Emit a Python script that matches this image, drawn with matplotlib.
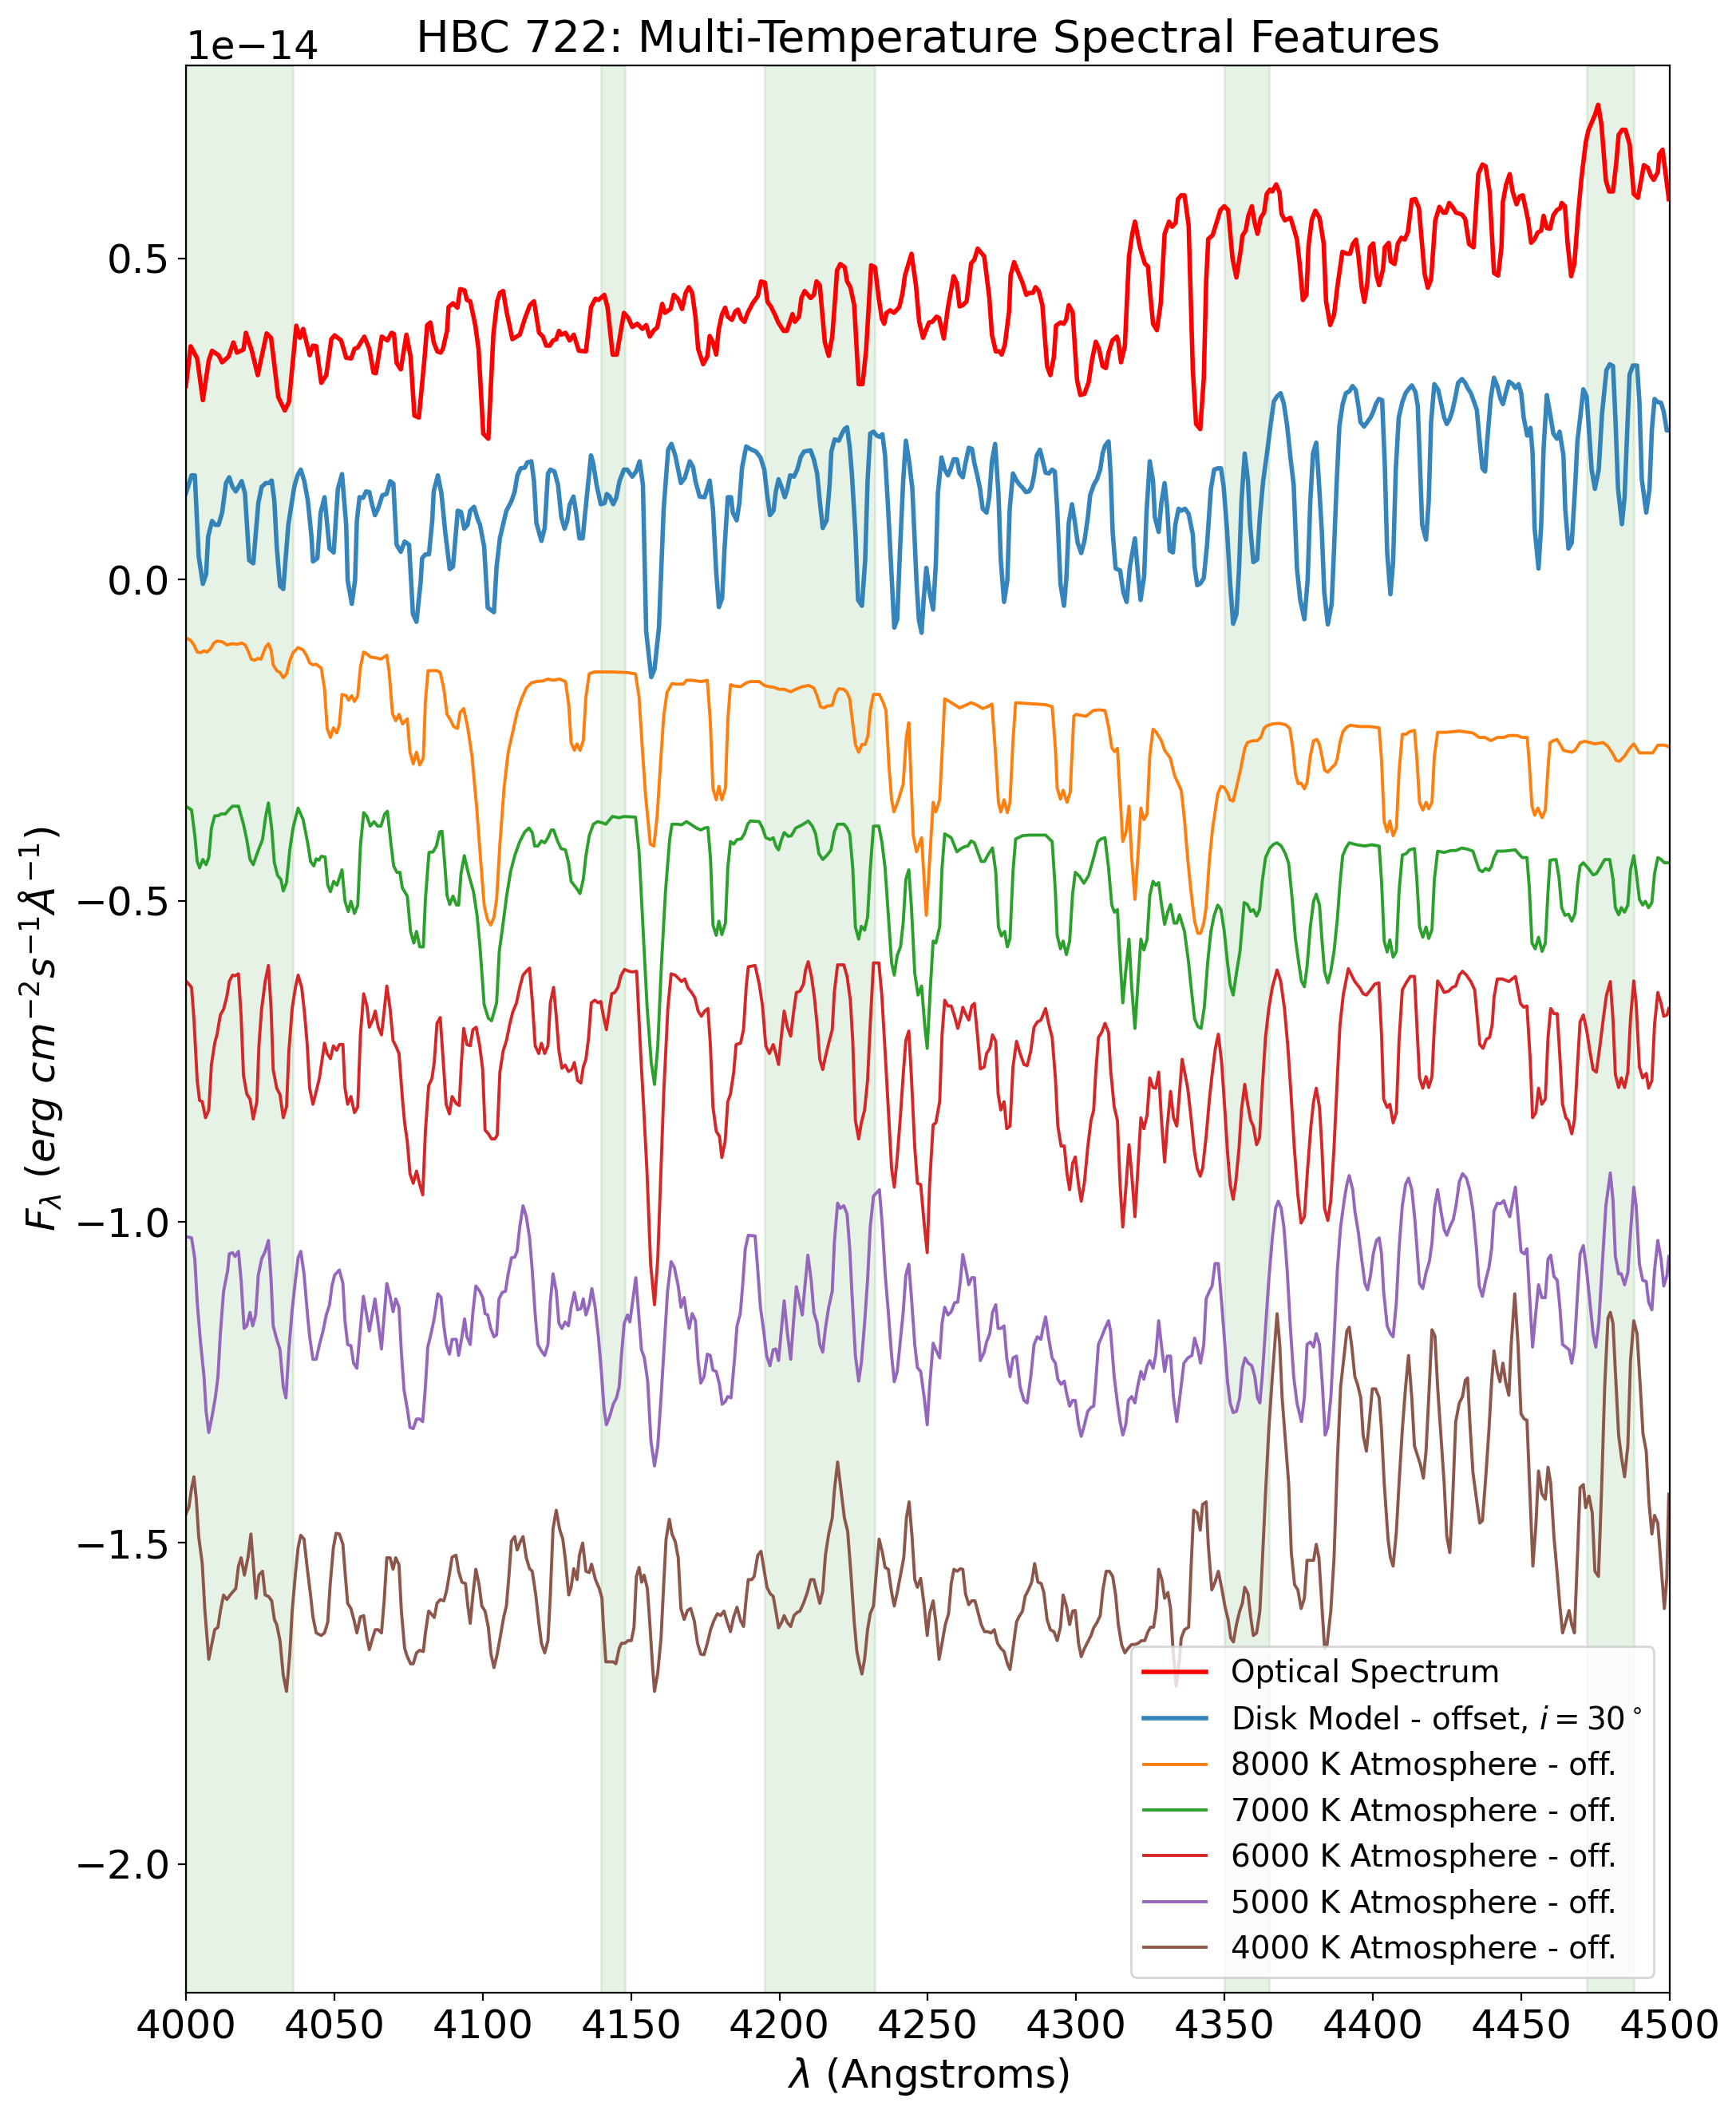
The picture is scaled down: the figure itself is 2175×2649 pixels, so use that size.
import numpy as np
import matplotlib
matplotlib.use("Agg")
import matplotlib.pyplot as plt

# all fluxes in units of 1e-14 erg/cm2/s/A, (wavelength, flux) pairs
optical = [
    (4000.0, 0.301), (4001.6, 0.363), (4003.8, 0.344), (4005.7, 0.279), (4007.7, 0.341), (4008.8, 0.356),
    (4011.0, 0.349), (4012.2, 0.338), (4014.4, 0.347), (4016.0, 0.369), (4017.2, 0.353), (4019.4, 0.358),
    (4020.2, 0.384), (4022.2, 0.356), (4024.2, 0.318), (4027.2, 0.383), (4028.7, 0.376), (4031.1, 0.284),
    (4033.3, 0.263), (4034.7, 0.276), (4037.2, 0.395), (4038.4, 0.376), (4039.5, 0.390), (4041.7, 0.349),
    (4042.8, 0.364), (4043.9, 0.363), (4045.6, 0.306), (4047.3, 0.318), (4049.0, 0.374), (4050.1, 0.380),
    (4052.3, 0.372), (4054.0, 0.345), (4055.7, 0.344), (4056.8, 0.359), (4057.9, 0.361), (4060.1, 0.378),
    (4061.8, 0.359), (4063.2, 0.322), (4064.0, 0.321), (4066.0, 0.378), (4067.9, 0.372), (4069.3, 0.384),
    (4070.1, 0.382), (4071.0, 0.337), (4072.4, 0.327), (4074.3, 0.381), (4075.7, 0.347), (4077.0, 0.255),
    (4078.5, 0.252), (4080.4, 0.344), (4081.3, 0.396), (4082.4, 0.400), (4083.5, 0.369), (4084.7, 0.355),
    (4085.8, 0.353), (4086.6, 0.359), (4088.0, 0.387), (4088.5, 0.424), (4090.0, 0.430), (4091.5, 0.423),
    (4092.4, 0.452), (4093.9, 0.450), (4094.7, 0.435), (4095.8, 0.433), (4097.5, 0.396), (4098.6, 0.359),
    (4100.2, 0.227), (4101.9, 0.219), (4103.6, 0.381), (4104.9, 0.433), (4105.8, 0.446), (4106.9, 0.449),
    (4108.0, 0.418), (4110.0, 0.374), (4112.5, 0.381), (4114.2, 0.406), (4115.9, 0.427), (4117.3, 0.433),
    (4119.0, 0.384), (4120.3, 0.378), (4121.4, 0.364), (4122.6, 0.364), (4123.7, 0.372), (4124.8, 0.374),
    (4125.7, 0.387), (4126.5, 0.381), (4127.9, 0.384), (4129.3, 0.372), (4130.7, 0.381), (4132.4, 0.356),
    (4134.8, 0.355), (4136.5, 0.424), (4138.0, 0.437), (4139.0, 0.435), (4141.0, 0.443), (4142.1, 0.423),
    (4143.8, 0.350), (4145.2, 0.350), (4147.6, 0.415), (4149.1, 0.407), (4150.4, 0.393), (4152.1, 0.398),
    (4153.8, 0.390), (4155.1, 0.396), (4156.3, 0.378), (4157.7, 0.388), (4158.8, 0.392), (4160.5, 0.429),
    (4161.4, 0.415), (4163.3, 0.421), (4164.4, 0.443), (4165.8, 0.437), (4167.2, 0.421), (4168.4, 0.446),
    (4169.5, 0.455), (4170.6, 0.446), (4171.7, 0.409), (4172.6, 0.359), (4174.3, 0.335), (4175.7, 0.347),
    (4176.5, 0.379), (4177.6, 0.369), (4178.7, 0.350), (4179.5, 0.388), (4180.6, 0.412), (4181.7, 0.423),
    (4182.6, 0.409), (4184.0, 0.404), (4185.1, 0.417), (4186.0, 0.420), (4187.1, 0.406), (4188.2, 0.401),
    (4189.3, 0.415), (4191.0, 0.430), (4192.7, 0.441), (4193.8, 0.464), (4195.1, 0.462), (4196.0, 0.432),
    (4197.1, 0.425), (4198.5, 0.412), (4199.6, 0.400), (4201.4, 0.387), (4202.5, 0.387), (4204.4, 0.413),
    (4205.2, 0.401), (4206.6, 0.409), (4207.4, 0.438), (4208.5, 0.449), (4210.5, 0.438), (4211.6, 0.443),
    (4212.5, 0.464), (4213.6, 0.458), (4215.3, 0.369), (4216.6, 0.348), (4217.8, 0.378), (4218.9, 0.446),
    (4219.4, 0.481), (4220.5, 0.491), (4222.0, 0.486), (4222.8, 0.464), (4223.9, 0.455), (4225.2, 0.427),
    (4226.7, 0.304), (4228.0, 0.304), (4229.2, 0.356), (4230.9, 0.489), (4232.2, 0.486), (4233.4, 0.440),
    (4234.5, 0.406), (4235.3, 0.398), (4236.1, 0.415), (4237.3, 0.419), (4238.6, 0.415), (4240.4, 0.424),
    (4241.5, 0.446), (4242.3, 0.473), (4243.4, 0.490), (4244.5, 0.507), (4246.0, 0.458), (4247.1, 0.401),
    (4248.4, 0.376), (4250.4, 0.400), (4251.5, 0.401), (4252.9, 0.409), (4253.8, 0.407), (4255.4, 0.375),
    (4256.8, 0.424), (4258.7, 0.472), (4259.8, 0.461), (4260.7, 0.425), (4261.8, 0.427), (4263.1, 0.433),
    (4264.6, 0.492), (4265.7, 0.498), (4266.8, 0.515), (4267.9, 0.509), (4269.0, 0.503), (4270.7, 0.440),
    (4271.6, 0.381), (4272.9, 0.355), (4274.1, 0.355), (4274.9, 0.350), (4276.0, 0.366), (4277.4, 0.418),
    (4277.9, 0.473), (4279.1, 0.494), (4280.2, 0.481), (4281.9, 0.462), (4283.2, 0.443), (4284.1, 0.446),
    (4285.4, 0.446), (4286.3, 0.455), (4287.4, 0.449), (4288.6, 0.427), (4290.2, 0.332), (4291.3, 0.318),
    (4292.5, 0.347), (4293.2, 0.395), (4294.7, 0.400), (4295.8, 0.398), (4296.6, 0.404), (4297.5, 0.427),
    (4298.8, 0.416), (4300.3, 0.310), (4301.4, 0.287), (4302.8, 0.289), (4304.2, 0.307), (4305.3, 0.341),
    (4306.6, 0.370), (4307.7, 0.359), (4308.9, 0.332), (4310.0, 0.329), (4310.9, 0.353), (4312.2, 0.372),
    (4313.7, 0.378), (4314.2, 0.370), (4315.1, 0.338), (4316.4, 0.363), (4317.8, 0.503), (4318.9, 0.538),
    (4319.8, 0.557), (4321.5, 0.517), (4323.1, 0.492), (4324.2, 0.487), (4324.8, 0.452), (4325.9, 0.398),
    (4327.2, 0.388), (4328.5, 0.430), (4329.8, 0.538), (4331.3, 0.557), (4332.3, 0.549), (4333.5, 0.555),
    (4334.3, 0.592), (4335.4, 0.598), (4336.5, 0.598), (4337.9, 0.551), (4339.3, 0.326), (4340.4, 0.242),
    (4341.8, 0.234), (4343.0, 0.313), (4343.8, 0.464), (4344.5, 0.530), (4346.0, 0.536), (4347.4, 0.557),
    (4348.6, 0.575), (4349.9, 0.581), (4351.2, 0.575), (4352.7, 0.499), (4354.0, 0.470), (4355.5, 0.514),
    (4356.0, 0.535), (4357.1, 0.543), (4358.0, 0.566), (4359.2, 0.581), (4360.2, 0.554), (4361.1, 0.538),
    (4362.2, 0.563), (4363.3, 0.571), (4364.2, 0.600), (4365.3, 0.607), (4366.1, 0.604), (4367.4, 0.615),
    (4368.5, 0.603), (4369.2, 0.569), (4370.3, 0.559), (4372.2, 0.563), (4373.3, 0.547), (4374.4, 0.529),
    (4375.3, 0.492), (4376.4, 0.435), (4377.6, 0.443), (4378.3, 0.520), (4379.4, 0.560), (4380.6, 0.574),
    (4382.0, 0.563), (4383.4, 0.523), (4384.2, 0.433), (4385.6, 0.396), (4386.9, 0.412), (4388.0, 0.455),
    (4389.7, 0.510), (4391.2, 0.507), (4392.3, 0.507), (4393.2, 0.522), (4394.3, 0.529), (4395.1, 0.504),
    (4396.2, 0.455), (4397.1, 0.432), (4398.1, 0.461), (4399.0, 0.517), (4400.1, 0.523), (4401.2, 0.473),
    (4402.1, 0.458), (4403.4, 0.483), (4404.0, 0.517), (4405.3, 0.524), (4406.0, 0.495), (4407.3, 0.491),
    (4408.4, 0.523), (4409.6, 0.532), (4410.7, 0.529), (4411.8, 0.541), (4413.1, 0.591), (4414.3, 0.592),
    (4415.5, 0.578), (4417.4, 0.476), (4418.5, 0.454), (4419.6, 0.467), (4421.0, 0.559), (4422.4, 0.580),
    (4423.7, 0.571), (4424.6, 0.571), (4425.7, 0.586), (4426.8, 0.580), (4428.0, 0.571), (4430.0, 0.568),
    (4431.1, 0.561), (4432.4, 0.522), (4433.9, 0.517), (4435.5, 0.631), (4436.9, 0.646), (4438.0, 0.643),
    (4439.3, 0.603), (4440.8, 0.477), (4442.2, 0.473), (4443.3, 0.517), (4443.8, 0.588), (4444.9, 0.615),
    (4446.1, 0.631), (4447.1, 0.603), (4448.4, 0.584), (4449.4, 0.596), (4450.5, 0.598), (4452.3, 0.559),
    (4453.3, 0.524), (4454.5, 0.530), (4455.5, 0.540), (4456.7, 0.543), (4457.5, 0.566), (4458.6, 0.547),
    (4459.7, 0.546), (4460.8, 0.567), (4462.0, 0.575), (4463.1, 0.578), (4463.6, 0.586), (4464.7, 0.581),
    (4465.6, 0.523), (4466.8, 0.472), (4467.9, 0.492), (4469.2, 0.572), (4470.3, 0.626), (4471.7, 0.680),
    (4472.6, 0.699), (4473.9, 0.713), (4474.8, 0.723), (4475.9, 0.739), (4477.0, 0.708), (4478.5, 0.621),
    (4479.6, 0.604), (4480.9, 0.604), (4482.0, 0.649), (4482.8, 0.692), (4484.0, 0.700), (4485.1, 0.700),
    (4486.5, 0.677), (4487.9, 0.600), (4489.3, 0.594), (4491.3, 0.645), (4492.6, 0.641), (4493.7, 0.628),
    (4494.6, 0.622), (4496.0, 0.634), (4496.5, 0.662), (4497.6, 0.669), (4498.8, 0.625), (4499.7, 0.592),
]

disk = [
    (4000.0, 0.134), (4001.9, 0.162), (4003.0, 0.162), (4004.3, 0.036), (4005.7, -0.007), (4006.8, 0.008),
    (4007.5, 0.067), (4008.8, 0.091), (4009.9, 0.085), (4011.0, 0.085), (4012.2, 0.104), (4013.5, 0.150),
    (4014.6, 0.159), (4015.7, 0.144), (4016.8, 0.137), (4017.7, 0.144), (4018.8, 0.153), (4019.9, 0.134),
    (4021.3, 0.030), (4022.7, 0.025), (4024.4, 0.119), (4025.5, 0.144), (4026.9, 0.150), (4028.0, 0.150),
    (4028.9, 0.154), (4029.8, 0.122), (4030.6, 0.051), (4031.7, -0.010), (4032.8, -0.015), (4034.5, 0.085),
    (4036.5, 0.144), (4037.6, 0.162), (4038.7, 0.171), (4039.9, 0.153), (4041.1, 0.122), (4042.3, 0.067),
    (4042.8, 0.028), (4044.3, 0.033), (4045.4, 0.104), (4046.7, 0.128), (4048.4, 0.048), (4049.8, 0.042),
    (4051.2, 0.141), (4052.6, 0.164), (4054.0, 0.085), (4054.5, -0.001), (4055.9, -0.038), (4057.0, -0.001),
    (4057.6, 0.091), (4058.5, 0.128), (4059.7, 0.127), (4060.7, 0.137), (4061.8, 0.136), (4062.6, 0.119),
    (4063.7, 0.100), (4064.8, 0.111), (4066.2, 0.131), (4067.6, 0.133), (4068.8, 0.153), (4069.9, 0.149),
    (4071.0, 0.054), (4072.4, 0.043), (4073.7, 0.059), (4075.2, 0.054), (4076.5, -0.054), (4077.7, -0.066),
    (4079.1, -0.004), (4079.6, 0.033), (4080.7, 0.039), (4081.9, 0.039), (4083.0, 0.091), (4083.5, 0.137),
    (4084.9, 0.162), (4086.1, 0.134), (4087.4, 0.073), (4088.9, 0.016), (4090.0, 0.020), (4091.6, 0.107),
    (4092.7, 0.105), (4093.8, 0.079), (4094.9, 0.085), (4095.8, 0.107), (4097.1, 0.113), (4098.3, 0.094),
    (4099.1, 0.085), (4100.5, 0.051), (4101.7, -0.044), (4103.8, -0.051), (4104.7, 0.020), (4105.8, 0.064),
    (4107.0, 0.088), (4108.0, 0.107), (4109.7, 0.122), (4110.8, 0.137), (4111.7, 0.162), (4112.8, 0.173),
    (4114.2, 0.174), (4115.0, 0.182), (4116.4, 0.184), (4117.3, 0.153), (4118.1, 0.088), (4119.8, 0.060),
    (4120.9, 0.080), (4122.0, 0.165), (4122.8, 0.171), (4124.2, 0.168), (4125.4, 0.147), (4126.5, 0.097),
    (4127.6, 0.079), (4128.5, 0.091), (4129.3, 0.116), (4130.6, 0.129), (4131.5, 0.104), (4132.6, 0.064),
    (4133.7, 0.064), (4135.0, 0.125), (4136.5, 0.193), (4137.2, 0.182), (4138.4, 0.147), (4139.8, 0.117),
    (4141.1, 0.119), (4141.8, 0.133), (4142.8, 0.129), (4144.0, 0.117), (4145.0, 0.127), (4146.1, 0.153),
    (4147.6, 0.171), (4148.7, 0.171), (4150.4, 0.160), (4151.7, 0.168), (4152.9, 0.184), (4154.0, 0.147),
    (4155.1, -0.081), (4156.8, -0.152), (4157.9, -0.140), (4159.4, -0.075), (4161.0, 0.110), (4162.5, 0.202),
    (4163.6, 0.211), (4164.9, 0.193), (4166.8, 0.150), (4168.1, 0.158), (4169.8, 0.184), (4170.9, 0.175),
    (4171.7, 0.153), (4173.1, 0.129), (4174.8, 0.128), (4176.5, 0.154), (4177.6, 0.110), (4178.7, 0.011),
    (4179.6, -0.043), (4180.7, -0.029), (4181.5, 0.048), (4182.6, 0.128), (4183.7, 0.128), (4184.3, 0.104),
    (4185.6, 0.092), (4186.5, 0.119), (4187.4, 0.174), (4188.8, 0.207), (4190.2, 0.203), (4192.1, 0.199),
    (4193.6, 0.190), (4194.9, 0.171), (4195.8, 0.134), (4196.8, 0.100), (4198.0, 0.107), (4198.8, 0.137),
    (4199.7, 0.156), (4200.7, 0.144), (4201.8, 0.128), (4202.7, 0.141), (4203.6, 0.162), (4204.9, 0.160),
    (4206.0, 0.171), (4207.2, 0.191), (4208.3, 0.199), (4210.5, 0.201), (4211.6, 0.187), (4212.7, 0.165),
    (4213.6, 0.122), (4214.6, 0.080), (4215.9, 0.092), (4216.9, 0.147), (4217.5, 0.199), (4218.6, 0.218),
    (4220.0, 0.216), (4221.1, 0.227), (4221.9, 0.234), (4222.8, 0.237), (4223.7, 0.205), (4224.4, 0.165),
    (4225.6, 0.073), (4226.5, -0.032), (4227.8, -0.041), (4228.9, 0.030), (4229.7, 0.153), (4230.6, 0.227),
    (4231.7, 0.230), (4232.8, 0.224), (4233.7, 0.222), (4234.7, 0.226), (4235.6, 0.193), (4236.7, 0.104),
    (4237.8, 0.005), (4238.7, -0.075), (4239.7, -0.062), (4240.6, 0.042), (4241.7, 0.153), (4242.6, 0.216),
    (4243.7, 0.184), (4244.8, 0.141), (4245.4, 0.079), (4246.2, -0.004), (4247.0, -0.063), (4247.9, -0.083),
    (4248.6, -0.032), (4249.5, 0.018), (4250.6, -0.020), (4251.8, -0.047), (4252.7, 0.023), (4253.4, 0.134),
    (4254.6, 0.190), (4255.7, 0.171), (4256.8, 0.162), (4257.6, 0.171), (4258.7, 0.187), (4259.8, 0.187),
    (4260.7, 0.165), (4261.8, 0.159), (4262.7, 0.181), (4263.8, 0.205), (4264.9, 0.203), (4265.7, 0.181),
    (4266.8, 0.159), (4267.6, 0.141), (4268.5, 0.110), (4269.8, 0.104), (4270.7, 0.128), (4271.6, 0.184),
    (4272.7, 0.211), (4273.8, 0.134), (4274.6, 0.030), (4275.7, -0.035), (4276.8, -0.001), (4277.6, 0.110),
    (4278.7, 0.165), (4279.9, 0.154), (4281.0, 0.147), (4282.1, 0.142), (4283.0, 0.136), (4284.1, 0.137),
    (4285.0, 0.144), (4285.8, 0.162), (4286.7, 0.193), (4287.8, 0.202), (4288.9, 0.181), (4289.7, 0.166),
    (4290.8, 0.165), (4291.9, 0.171), (4292.8, 0.168), (4293.6, 0.110), (4294.7, -0.007), (4295.9, -0.041),
    (4296.7, 0.002), (4297.5, 0.088), (4298.6, 0.117), (4299.5, 0.091), (4300.5, 0.057), (4301.7, 0.041),
    (4302.8, 0.060), (4304.0, 0.099), (4304.7, 0.131), (4305.9, 0.147), (4307.0, 0.156), (4308.1, 0.171),
    (4308.9, 0.196), (4309.7, 0.208), (4310.9, 0.215), (4311.6, 0.165), (4312.3, 0.073), (4313.3, 0.017),
    (4314.8, 0.014), (4315.9, -0.020), (4317.0, -0.035), (4318.1, 0.020), (4319.8, 0.064), (4320.9, 0.005),
    (4321.7, -0.032), (4322.9, 0.005), (4323.7, 0.104), (4324.8, 0.184), (4325.9, 0.153), (4326.5, 0.097),
    (4327.8, 0.074), (4328.7, 0.119), (4329.8, 0.150), (4330.7, 0.110), (4331.5, 0.045), (4332.6, 0.042),
    (4333.4, 0.085), (4334.5, 0.110), (4335.4, 0.107), (4336.7, 0.110), (4337.9, 0.102), (4339.3, 0.070),
    (4339.9, 0.020), (4340.8, -0.009), (4341.9, -0.006), (4343.0, 0.002), (4344.1, 0.054), (4345.4, 0.141),
    (4346.5, 0.171), (4347.7, 0.173), (4348.8, 0.173), (4349.7, 0.144), (4350.8, 0.079), (4351.9, -0.007),
    (4352.9, -0.069), (4354.0, -0.054), (4354.9, 0.017), (4355.7, 0.122), (4356.8, 0.196), (4357.9, 0.153),
    (4358.6, 0.085), (4359.7, 0.027), (4361.0, 0.031), (4361.9, 0.097), (4363.0, 0.153), (4364.2, 0.193),
    (4365.3, 0.233), (4366.6, 0.277), (4367.7, 0.285), (4368.9, 0.290), (4370.0, 0.273), (4371.1, 0.239),
    (4372.2, 0.190), (4373.3, 0.147), (4374.4, 0.017), (4375.5, -0.032), (4376.9, -0.062), (4378.0, -0.001),
    (4378.9, 0.122), (4379.8, 0.196), (4380.9, 0.213), (4381.7, 0.159), (4382.8, 0.073), (4383.6, -0.020),
    (4384.8, -0.070), (4386.1, -0.038), (4386.9, 0.048), (4387.8, 0.153), (4388.7, 0.239), (4389.8, 0.273),
    (4390.9, 0.290), (4392.1, 0.293), (4393.1, 0.301), (4394.2, 0.295), (4395.1, 0.270), (4395.8, 0.245),
    (4397.0, 0.238), (4398.1, 0.245), (4399.2, 0.252), (4400.1, 0.261), (4401.0, 0.273), (4402.0, 0.281),
    (4403.1, 0.279), (4404.0, 0.178), (4404.8, 0.042), (4405.9, -0.023), (4406.8, 0.027), (4407.7, 0.171),
    (4408.7, 0.252), (4409.9, 0.276), (4411.0, 0.290), (4412.3, 0.298), (4413.1, 0.302), (4414.3, 0.292),
    (4415.1, 0.270), (4415.7, 0.196), (4416.6, 0.085), (4417.9, 0.062), (4418.8, 0.122), (4419.6, 0.245),
    (4420.7, 0.304), (4422.0, 0.295), (4422.9, 0.276), (4424.0, 0.252), (4424.9, 0.242), (4425.9, 0.250),
    (4426.8, 0.263), (4427.7, 0.282), (4428.7, 0.306), (4430.0, 0.312), (4431.1, 0.306), (4431.9, 0.298),
    (4433.0, 0.290), (4434.1, 0.276), (4435.0, 0.264), (4435.8, 0.224), (4436.9, 0.173), (4437.8, 0.168),
    (4438.5, 0.215), (4439.7, 0.282), (4440.8, 0.314), (4441.9, 0.301), (4443.0, 0.281), (4443.8, 0.273),
    (4444.9, 0.292), (4445.8, 0.308), (4447.1, 0.304), (4448.0, 0.298), (4449.1, 0.304), (4450.0, 0.289),
    (4450.8, 0.252), (4452.0, 0.224), (4453.1, 0.236), (4453.8, 0.196), (4454.5, 0.079), (4455.8, 0.017),
    (4456.7, 0.085), (4457.5, 0.202), (4458.6, 0.287), (4459.7, 0.258), (4460.8, 0.227), (4462.0, 0.219),
    (4462.9, 0.230), (4464.2, 0.193), (4464.8, 0.110), (4465.9, 0.048), (4467.0, 0.057), (4468.1, 0.141),
    (4468.9, 0.215), (4470.0, 0.258), (4470.9, 0.296), (4472.0, 0.285), (4472.8, 0.233), (4473.7, 0.171),
    (4474.8, 0.141), (4476.1, 0.171), (4477.2, 0.258), (4478.7, 0.326), (4479.8, 0.335), (4480.9, 0.332),
    (4481.7, 0.252), (4482.6, 0.141), (4483.9, 0.086), (4484.8, 0.128), (4485.7, 0.233), (4486.5, 0.319),
    (4487.6, 0.333), (4489.0, 0.333), (4489.8, 0.276), (4490.6, 0.156), (4492.1, 0.104), (4493.2, 0.141),
    (4494.0, 0.233), (4494.9, 0.281), (4496.0, 0.276), (4497.1, 0.275), (4498.0, 0.261), (4499.0, 0.232),
    (4499.6, 0.232),
]

atm_8000 = [
    (4000.0, -0.091), (4001.6, -0.095), (4002.7, -0.102), (4003.8, -0.113), (4005.0, -0.114), (4006.1, -0.111),
    (4007.1, -0.113), (4008.3, -0.108), (4009.4, -0.099), (4010.5, -0.096), (4012.2, -0.097), (4013.8, -0.102),
    (4015.5, -0.100), (4017.2, -0.101), (4018.8, -0.099), (4020.0, -0.102), (4021.1, -0.113), (4022.0, -0.124),
    (4023.1, -0.126), (4024.2, -0.123), (4025.3, -0.124), (4026.1, -0.114), (4026.9, -0.105), (4027.8, -0.100),
    (4028.7, -0.110), (4029.4, -0.133), (4030.6, -0.142), (4031.7, -0.145), (4032.8, -0.153), (4033.9, -0.147),
    (4035.0, -0.127), (4036.1, -0.114), (4037.8, -0.106), (4039.5, -0.110), (4040.6, -0.118), (4041.7, -0.130),
    (4042.8, -0.133), (4043.9, -0.132), (4045.6, -0.138), (4046.7, -0.170), (4047.6, -0.232), (4048.7, -0.246),
    (4049.7, -0.231), (4050.8, -0.239), (4051.7, -0.226), (4052.6, -0.179), (4054.0, -0.181), (4054.8, -0.188),
    (4055.9, -0.181), (4056.8, -0.190), (4057.9, -0.181), (4058.8, -0.136), (4059.9, -0.113), (4061.0, -0.116),
    (4062.3, -0.121), (4064.0, -0.122), (4065.7, -0.124), (4067.7, -0.118), (4068.5, -0.145), (4069.6, -0.209),
    (4070.7, -0.220), (4071.8, -0.210), (4073.0, -0.225), (4074.6, -0.217), (4075.5, -0.269), (4076.6, -0.287),
    (4077.7, -0.269), (4078.8, -0.289), (4080.0, -0.278), (4080.7, -0.189), (4081.6, -0.142), (4083.0, -0.142),
    (4084.6, -0.142), (4085.7, -0.145), (4086.9, -0.170), (4088.0, -0.210), (4089.3, -0.220), (4090.2, -0.229),
    (4091.5, -0.232), (4092.4, -0.207), (4093.6, -0.201), (4094.9, -0.229), (4096.4, -0.275), (4098.0, -0.356),
    (4099.1, -0.424), (4100.5, -0.507), (4101.6, -0.529), (4102.7, -0.538), (4103.8, -0.526), (4104.7, -0.498),
    (4105.8, -0.412), (4107.2, -0.325), (4108.6, -0.269), (4110.1, -0.238), (4111.6, -0.207), (4113.1, -0.186),
    (4114.7, -0.169), (4116.4, -0.161), (4118.1, -0.159), (4120.3, -0.158), (4122.0, -0.155), (4123.7, -0.157),
    (4125.9, -0.155), (4127.9, -0.159), (4129.0, -0.195), (4129.8, -0.254), (4130.9, -0.266), (4131.8, -0.256),
    (4132.8, -0.266), (4133.9, -0.251), (4134.8, -0.183), (4135.9, -0.147), (4137.6, -0.144), (4139.8, -0.144),
    (4143.7, -0.144), (4148.7, -0.145), (4151.5, -0.147), (4152.7, -0.183), (4153.8, -0.263), (4154.9, -0.337),
    (4156.5, -0.412), (4157.7, -0.415), (4158.8, -0.368), (4159.9, -0.288), (4161.0, -0.213), (4162.1, -0.176),
    (4163.8, -0.162), (4165.1, -0.163), (4167.6, -0.163), (4168.7, -0.157), (4170.4, -0.157), (4172.0, -0.158),
    (4173.7, -0.159), (4175.7, -0.157), (4176.7, -0.220), (4177.6, -0.325), (4178.7, -0.343), (4179.6, -0.322),
    (4180.6, -0.343), (4181.8, -0.325), (4182.6, -0.220), (4183.5, -0.164), (4184.9, -0.166), (4186.9, -0.167),
    (4188.8, -0.161), (4190.2, -0.159), (4193.2, -0.159), (4194.9, -0.165), (4196.6, -0.167), (4198.2, -0.168),
    (4199.9, -0.171), (4201.6, -0.171), (4203.8, -0.175), (4205.5, -0.171), (4207.7, -0.167), (4209.9, -0.165),
    (4211.6, -0.169), (4212.7, -0.181), (4213.8, -0.198), (4215.0, -0.200), (4216.1, -0.197), (4217.8, -0.196),
    (4218.9, -0.178), (4220.0, -0.170), (4221.7, -0.171), (4222.8, -0.176), (4223.7, -0.186), (4224.4, -0.213),
    (4225.6, -0.257), (4226.7, -0.269), (4227.8, -0.257), (4228.9, -0.257), (4229.8, -0.244), (4230.6, -0.204),
    (4231.7, -0.179), (4233.7, -0.179), (4235.0, -0.192), (4235.9, -0.204), (4236.9, -0.290), (4237.8, -0.343),
    (4238.6, -0.362), (4240.1, -0.343), (4241.7, -0.319), (4242.8, -0.244), (4243.6, -0.223), (4245.1, -0.399),
    (4246.2, -0.424), (4247.9, -0.402), (4249.5, -0.523), (4251.8, -0.347), (4252.7, -0.362), (4254.0, -0.343),
    (4255.1, -0.244), (4255.7, -0.186), (4257.3, -0.190), (4260.7, -0.200), (4264.6, -0.192), (4266.3, -0.195),
    (4268.5, -0.201), (4270.2, -0.198), (4271.6, -0.194), (4272.7, -0.263), (4273.8, -0.347), (4274.6, -0.362),
    (4275.7, -0.343), (4276.8, -0.363), (4277.7, -0.347), (4278.7, -0.251), (4279.6, -0.192), (4283.0, -0.193),
    (4289.7, -0.195), (4291.9, -0.198), (4293.0, -0.263), (4293.6, -0.325), (4294.7, -0.342), (4295.6, -0.328),
    (4296.9, -0.347), (4298.0, -0.331), (4299.2, -0.213), (4300.0, -0.210), (4301.9, -0.212), (4303.3, -0.213),
    (4305.8, -0.204), (4307.5, -0.203), (4309.7, -0.204), (4310.9, -0.229), (4312.0, -0.262), (4312.9, -0.268),
    (4313.9, -0.263), (4314.8, -0.337), (4315.7, -0.408), (4316.8, -0.393), (4317.8, -0.353), (4318.7, -0.433),
    (4319.8, -0.498), (4320.9, -0.424), (4321.8, -0.356), (4322.8, -0.374), (4323.9, -0.365), (4324.8, -0.275),
    (4325.9, -0.233), (4327.0, -0.238), (4328.7, -0.251), (4329.8, -0.266), (4331.7, -0.278), (4333.2, -0.306),
    (4335.4, -0.328), (4336.5, -0.374), (4337.6, -0.436), (4338.7, -0.486), (4339.9, -0.532), (4341.0, -0.551),
    (4341.9, -0.551), (4343.0, -0.535), (4343.8, -0.510), (4344.9, -0.436), (4346.0, -0.387), (4347.7, -0.334),
    (4348.8, -0.322), (4349.9, -0.324), (4351.0, -0.332), (4351.8, -0.343), (4352.9, -0.345), (4353.8, -0.328),
    (4355.2, -0.300), (4356.8, -0.263), (4357.7, -0.254), (4358.8, -0.252), (4359.9, -0.251), (4361.0, -0.251),
    (4362.2, -0.246), (4363.3, -0.232), (4364.2, -0.228), (4366.1, -0.225), (4368.3, -0.224), (4370.5, -0.226),
    (4372.0, -0.232), (4373.0, -0.263), (4373.9, -0.303), (4374.8, -0.318), (4375.8, -0.317), (4376.9, -0.326),
    (4377.8, -0.316), (4378.9, -0.275), (4380.0, -0.251), (4381.1, -0.249), (4382.0, -0.257), (4382.8, -0.275),
    (4383.7, -0.297), (4384.8, -0.300), (4386.1, -0.293), (4387.3, -0.288), (4388.0, -0.278), (4388.9, -0.254),
    (4389.8, -0.238), (4390.9, -0.231), (4392.3, -0.227), (4395.6, -0.229), (4399.0, -0.229), (4402.1, -0.231),
    (4402.9, -0.282), (4403.8, -0.377), (4404.8, -0.393), (4405.7, -0.376), (4406.8, -0.399), (4407.9, -0.387),
    (4408.8, -0.300), (4409.9, -0.241), (4411.2, -0.241), (4412.3, -0.237), (4414.0, -0.235), (4414.8, -0.278),
    (4415.7, -0.347), (4416.8, -0.359), (4417.9, -0.347), (4418.8, -0.357), (4419.9, -0.347), (4420.7, -0.275),
    (4421.8, -0.238), (4424.6, -0.238), (4429.1, -0.236), (4433.7, -0.239), (4435.8, -0.246), (4437.8, -0.246),
    (4439.7, -0.251), (4441.9, -0.246), (4444.1, -0.246), (4445.8, -0.243), (4448.6, -0.243), (4450.3, -0.246),
    (4452.0, -0.246), (4452.7, -0.288), (4453.6, -0.353), (4454.5, -0.367), (4455.6, -0.356), (4457.0, -0.371),
    (4458.1, -0.359), (4459.0, -0.293), (4459.7, -0.254), (4460.8, -0.251), (4462.0, -0.249), (4463.1, -0.257),
    (4464.2, -0.266), (4465.9, -0.268), (4467.0, -0.269), (4468.1, -0.266), (4469.8, -0.254), (4471.4, -0.252),
    (4474.8, -0.256), (4477.6, -0.254), (4479.2, -0.260), (4480.9, -0.272), (4482.0, -0.282), (4483.1, -0.283),
    (4484.8, -0.275), (4486.5, -0.263), (4487.9, -0.256), (4488.7, -0.262), (4489.8, -0.270), (4491.5, -0.270),
    (4493.2, -0.270), (4494.3, -0.270), (4496.0, -0.258), (4498.2, -0.258), (4499.5, -0.260),
]

atm_7000 = [
    (4000.0, -0.353), (4001.9, -0.359), (4003.0, -0.399), (4003.8, -0.439), (4004.6, -0.449), (4005.7, -0.436),
    (4006.8, -0.444), (4007.7, -0.433), (4008.6, -0.387), (4009.7, -0.368), (4010.8, -0.368), (4011.9, -0.365),
    (4013.3, -0.365), (4014.4, -0.359), (4015.7, -0.353), (4017.7, -0.353), (4019.4, -0.381), (4020.5, -0.405),
    (4021.6, -0.436), (4022.7, -0.444), (4024.2, -0.424), (4025.8, -0.405), (4026.9, -0.368), (4027.8, -0.348),
    (4028.9, -0.387), (4029.8, -0.441), (4030.9, -0.461), (4032.0, -0.467), (4032.8, -0.485), (4033.9, -0.472),
    (4035.0, -0.421), (4036.1, -0.387), (4037.8, -0.356), (4039.5, -0.374), (4041.1, -0.412), (4042.0, -0.439),
    (4043.1, -0.446), (4043.9, -0.435), (4044.8, -0.437), (4045.6, -0.431), (4046.9, -0.432), (4047.8, -0.476),
    (4048.7, -0.486), (4049.8, -0.470), (4050.9, -0.476), (4052.6, -0.452), (4053.6, -0.501), (4054.7, -0.517),
    (4055.6, -0.501), (4056.8, -0.520), (4057.9, -0.507), (4058.8, -0.415), (4059.9, -0.363), (4061.0, -0.369),
    (4062.1, -0.384), (4063.4, -0.377), (4064.6, -0.384), (4065.7, -0.384), (4067.0, -0.365), (4067.9, -0.361),
    (4069.1, -0.412), (4070.0, -0.446), (4071.1, -0.456), (4072.1, -0.456), (4072.9, -0.480), (4074.6, -0.493),
    (4075.7, -0.548), (4076.8, -0.566), (4077.7, -0.548), (4078.8, -0.572), (4080.0, -0.572), (4080.7, -0.498),
    (4081.9, -0.425), (4083.3, -0.424), (4084.4, -0.415), (4085.5, -0.393), (4086.3, -0.392), (4087.1, -0.436),
    (4088.0, -0.492), (4088.9, -0.506), (4090.0, -0.493), (4091.2, -0.507), (4091.9, -0.507), (4092.7, -0.458),
    (4093.8, -0.430), (4095.2, -0.458), (4096.9, -0.486), (4098.1, -0.523), (4099.1, -0.572), (4100.5, -0.662),
    (4101.9, -0.683), (4103.0, -0.687), (4104.7, -0.659), (4105.6, -0.579), (4106.9, -0.535), (4108.0, -0.495),
    (4109.4, -0.455), (4110.8, -0.430), (4112.5, -0.408), (4114.2, -0.393), (4115.6, -0.387), (4116.7, -0.394),
    (4117.5, -0.415), (4118.6, -0.415), (4119.8, -0.407), (4120.9, -0.410), (4122.0, -0.402), (4123.1, -0.390),
    (4123.9, -0.390), (4125.3, -0.408), (4126.4, -0.419), (4127.9, -0.421), (4129.0, -0.442), (4129.8, -0.470),
    (4131.5, -0.480), (4132.8, -0.489), (4133.9, -0.467), (4134.8, -0.430), (4135.9, -0.399), (4137.3, -0.381),
    (4138.7, -0.377), (4140.4, -0.379), (4141.5, -0.381), (4143.7, -0.369), (4146.0, -0.371), (4147.6, -0.369),
    (4151.5, -0.370), (4152.7, -0.424), (4153.8, -0.523), (4155.4, -0.665), (4156.8, -0.752), (4157.9, -0.786),
    (4159.0, -0.727), (4160.2, -0.603), (4161.6, -0.486), (4163.0, -0.405), (4163.8, -0.381), (4165.5, -0.381),
    (4167.0, -0.382), (4168.7, -0.377), (4170.4, -0.382), (4172.0, -0.387), (4173.5, -0.390), (4174.8, -0.387),
    (4175.9, -0.386), (4176.8, -0.436), (4177.6, -0.538), (4178.7, -0.554), (4179.6, -0.532), (4180.6, -0.553),
    (4181.8, -0.535), (4182.6, -0.449), (4183.5, -0.408), (4184.6, -0.412), (4185.7, -0.405), (4187.1, -0.404),
    (4188.2, -0.396), (4189.3, -0.381), (4190.2, -0.376), (4193.2, -0.377), (4194.3, -0.387), (4195.4, -0.402),
    (4196.9, -0.405), (4197.9, -0.402), (4198.8, -0.415), (4199.7, -0.421), (4200.7, -0.405), (4201.6, -0.394),
    (4203.0, -0.400), (4204.0, -0.399), (4205.5, -0.387), (4207.7, -0.382), (4209.7, -0.376), (4211.1, -0.384),
    (4212.2, -0.396), (4213.3, -0.427), (4214.6, -0.436), (4216.1, -0.429), (4217.4, -0.421), (4218.5, -0.393),
    (4219.6, -0.381), (4221.7, -0.381), (4222.8, -0.387), (4223.7, -0.396), (4224.7, -0.449), (4225.6, -0.541),
    (4226.7, -0.560), (4227.6, -0.540), (4228.7, -0.546), (4229.7, -0.526), (4230.6, -0.452), (4231.7, -0.384),
    (4233.5, -0.384), (4234.5, -0.408), (4235.6, -0.449), (4236.7, -0.523), (4237.8, -0.597), (4238.7, -0.616),
    (4239.7, -0.585), (4240.8, -0.572), (4241.7, -0.535), (4242.6, -0.467), (4243.6, -0.452), (4244.5, -0.511),
    (4245.6, -0.613), (4246.7, -0.647), (4247.9, -0.633), (4249.0, -0.696), (4249.8, -0.730), (4250.9, -0.633),
    (4251.8, -0.563), (4252.7, -0.566), (4254.0, -0.541), (4254.8, -0.449), (4255.7, -0.396), (4257.9, -0.402),
    (4259.8, -0.424), (4261.2, -0.419), (4262.4, -0.416), (4263.5, -0.415), (4264.6, -0.407), (4265.7, -0.410),
    (4266.8, -0.424), (4268.0, -0.439), (4269.1, -0.439), (4270.5, -0.427), (4271.8, -0.418), (4272.9, -0.455),
    (4273.8, -0.541), (4274.8, -0.555), (4275.9, -0.548), (4276.8, -0.572), (4277.7, -0.559), (4278.7, -0.455),
    (4279.6, -0.404), (4281.9, -0.399), (4284.1, -0.398), (4289.7, -0.398), (4291.9, -0.408), (4293.0, -0.486),
    (4293.6, -0.554), (4294.7, -0.575), (4295.6, -0.563), (4296.7, -0.584), (4297.8, -0.563), (4298.8, -0.489),
    (4299.7, -0.456), (4301.1, -0.462), (4302.6, -0.473), (4304.2, -0.461), (4305.9, -0.433), (4307.3, -0.408),
    (4308.4, -0.404), (4309.7, -0.402), (4310.9, -0.449), (4312.0, -0.507), (4312.9, -0.518), (4313.9, -0.514),
    (4314.8, -0.591), (4315.7, -0.659), (4316.7, -0.610), (4317.8, -0.560), (4318.7, -0.634), (4319.8, -0.699),
    (4320.9, -0.622), (4321.8, -0.560), (4322.8, -0.577), (4323.9, -0.560), (4324.8, -0.492), (4325.9, -0.470),
    (4326.8, -0.476), (4327.8, -0.472), (4328.7, -0.504), (4329.8, -0.537), (4330.9, -0.517), (4331.8, -0.506),
    (4333.0, -0.535), (4333.9, -0.535), (4334.8, -0.522), (4336.5, -0.548), (4337.9, -0.597), (4338.7, -0.634),
    (4339.9, -0.684), (4341.0, -0.696), (4342.1, -0.699), (4343.2, -0.665), (4344.3, -0.597), (4345.4, -0.548),
    (4346.5, -0.523), (4347.7, -0.507), (4348.8, -0.514), (4349.9, -0.548), (4351.0, -0.597), (4351.9, -0.631),
    (4352.9, -0.647), (4354.1, -0.610), (4355.2, -0.579), (4356.6, -0.503), (4357.7, -0.506), (4358.8, -0.517),
    (4359.7, -0.514), (4360.8, -0.524), (4361.8, -0.514), (4362.7, -0.470), (4363.8, -0.433), (4365.3, -0.418),
    (4366.6, -0.412), (4367.7, -0.410), (4369.1, -0.415), (4370.5, -0.427), (4371.6, -0.442), (4372.8, -0.498),
    (4373.9, -0.560), (4375.0, -0.597), (4375.9, -0.625), (4376.9, -0.634), (4377.8, -0.603), (4378.9, -0.541),
    (4380.0, -0.501), (4380.9, -0.490), (4382.0, -0.507), (4382.8, -0.560), (4383.7, -0.610), (4384.8, -0.628),
    (4385.8, -0.610), (4386.9, -0.579), (4388.0, -0.529), (4388.9, -0.473), (4389.8, -0.430), (4390.9, -0.418),
    (4392.0, -0.410), (4394.5, -0.413), (4397.3, -0.415), (4399.5, -0.413), (4402.1, -0.415), (4402.9, -0.470),
    (4403.8, -0.563), (4404.8, -0.580), (4405.7, -0.561), (4406.8, -0.588), (4407.9, -0.579), (4408.8, -0.486),
    (4409.9, -0.429), (4411.2, -0.427), (4412.3, -0.421), (4414.0, -0.419), (4414.8, -0.467), (4415.7, -0.541),
    (4416.8, -0.557), (4417.9, -0.541), (4418.8, -0.559), (4419.9, -0.545), (4420.7, -0.467), (4421.8, -0.423),
    (4424.0, -0.425), (4426.3, -0.422), (4428.0, -0.422), (4430.0, -0.418), (4431.9, -0.420), (4433.7, -0.423),
    (4434.6, -0.436), (4435.8, -0.452), (4436.9, -0.455), (4438.0, -0.450), (4439.1, -0.453), (4440.0, -0.446),
    (4440.8, -0.433), (4441.9, -0.423), (4444.1, -0.423), (4448.0, -0.421), (4449.1, -0.427), (4450.3, -0.433),
    (4451.9, -0.433), (4452.7, -0.480), (4453.6, -0.566), (4454.7, -0.575), (4455.8, -0.557), (4457.0, -0.579),
    (4458.1, -0.566), (4459.0, -0.486), (4459.7, -0.437), (4461.7, -0.436), (4462.7, -0.464), (4463.6, -0.511),
    (4464.7, -0.523), (4465.9, -0.521), (4467.0, -0.532), (4468.1, -0.520), (4469.0, -0.473), (4469.8, -0.446),
    (4470.9, -0.441), (4472.6, -0.450), (4474.2, -0.460), (4475.3, -0.458), (4476.5, -0.449), (4478.1, -0.436),
    (4479.8, -0.436), (4480.9, -0.467), (4481.7, -0.511), (4482.8, -0.522), (4483.7, -0.511), (4484.8, -0.518),
    (4485.9, -0.507), (4486.8, -0.452), (4487.9, -0.430), (4488.7, -0.455), (4489.8, -0.498), (4490.9, -0.507),
    (4491.8, -0.501), (4492.9, -0.511), (4494.0, -0.503), (4494.9, -0.458), (4496.0, -0.433), (4497.1, -0.436),
    (4498.2, -0.441), (4499.5, -0.441),
]

atm_6000 = [
    (4000.0, -0.625), (4001.9, -0.635), (4002.7, -0.684), (4003.8, -0.780), (4004.6, -0.811), (4005.5, -0.813),
    (4006.6, -0.838), (4007.7, -0.826), (4008.6, -0.755), (4009.7, -0.722), (4010.5, -0.708), (4011.6, -0.678),
    (4012.7, -0.669), (4013.8, -0.649), (4014.6, -0.626), (4015.7, -0.616), (4016.6, -0.617), (4017.7, -0.614),
    (4018.6, -0.680), (4019.4, -0.772), (4020.5, -0.801), (4021.6, -0.809), (4022.7, -0.840), (4023.9, -0.813),
    (4024.6, -0.726), (4025.5, -0.669), (4026.7, -0.626), (4027.8, -0.601), (4028.7, -0.668), (4029.4, -0.763),
    (4030.6, -0.792), (4031.7, -0.802), (4032.8, -0.838), (4033.9, -0.821), (4034.7, -0.734), (4035.8, -0.668),
    (4036.9, -0.635), (4037.8, -0.616), (4039.0, -0.635), (4040.0, -0.676), (4040.9, -0.726), (4041.7, -0.792),
    (4042.8, -0.817), (4043.9, -0.797), (4045.0, -0.776), (4045.8, -0.751), (4046.7, -0.722), (4047.6, -0.738),
    (4048.7, -0.746), (4049.7, -0.726), (4050.8, -0.733), (4051.7, -0.724), (4052.9, -0.724), (4053.6, -0.792),
    (4054.5, -0.817), (4055.6, -0.805), (4056.8, -0.830), (4057.9, -0.821), (4058.8, -0.709), (4059.9, -0.645),
    (4061.0, -0.664), (4061.8, -0.697), (4062.9, -0.686), (4063.8, -0.672), (4064.8, -0.697), (4065.9, -0.709),
    (4066.8, -0.672), (4067.7, -0.633), (4068.8, -0.668), (4069.8, -0.718), (4070.7, -0.726), (4071.8, -0.738),
    (4072.9, -0.805), (4073.7, -0.846), (4074.6, -0.875), (4075.5, -0.925), (4076.6, -0.940), (4077.7, -0.921),
    (4078.8, -0.942), (4079.8, -0.958), (4080.7, -0.859), (4081.8, -0.788), (4082.9, -0.777), (4083.7, -0.751),
    (4084.6, -0.691), (4085.7, -0.682), (4086.6, -0.743), (4087.7, -0.817), (4088.8, -0.832), (4089.7, -0.805),
    (4091.1, -0.816), (4092.1, -0.819), (4092.8, -0.755), (4093.6, -0.699), (4094.7, -0.724), (4095.8, -0.726),
    (4096.7, -0.701), (4097.8, -0.697), (4099.0, -0.726), (4100.0, -0.763), (4100.8, -0.857), (4101.9, -0.863),
    (4103.0, -0.871), (4104.1, -0.871), (4104.9, -0.865), (4105.8, -0.767), (4106.9, -0.734), (4108.0, -0.718),
    (4109.1, -0.693), (4110.1, -0.674), (4111.4, -0.659), (4112.5, -0.635), (4113.6, -0.616), (4114.7, -0.610),
    (4115.8, -0.605), (4116.7, -0.655), (4117.7, -0.726), (4118.9, -0.738), (4119.8, -0.722), (4120.9, -0.738),
    (4122.0, -0.726), (4122.8, -0.659), (4123.9, -0.635), (4124.8, -0.680), (4125.7, -0.734), (4126.7, -0.761),
    (4127.8, -0.756), (4128.9, -0.766), (4130.0, -0.763), (4130.9, -0.752), (4132.0, -0.780), (4133.1, -0.784),
    (4133.9, -0.759), (4134.8, -0.747), (4135.7, -0.713), (4136.6, -0.659), (4137.8, -0.655), (4138.9, -0.659),
    (4139.8, -0.657), (4140.7, -0.680), (4141.7, -0.701), (4142.6, -0.672), (4143.5, -0.645), (4144.5, -0.643),
    (4145.6, -0.635), (4146.5, -0.618), (4147.8, -0.607), (4149.3, -0.610), (4150.4, -0.611), (4151.9, -0.610),
    (4153.2, -0.734), (4154.3, -0.826), (4155.4, -0.925), (4156.6, -1.066), (4157.9, -1.129), (4159.0, -1.058),
    (4159.9, -0.942), (4161.0, -0.801), (4162.4, -0.668), (4163.5, -0.614), (4164.9, -0.616), (4167.0, -0.626),
    (4168.1, -0.622), (4169.2, -0.636), (4170.4, -0.643), (4171.5, -0.651), (4172.6, -0.672), (4173.7, -0.680),
    (4174.8, -0.672), (4175.9, -0.668), (4176.7, -0.722), (4177.6, -0.821), (4178.7, -0.859), (4179.8, -0.867),
    (4180.6, -0.900), (4181.7, -0.875), (4182.6, -0.813), (4183.5, -0.801), (4184.6, -0.767), (4185.4, -0.724),
    (4186.9, -0.722), (4187.9, -0.701), (4188.8, -0.635), (4189.5, -0.603), (4191.8, -0.601), (4193.2, -0.630),
    (4194.3, -0.664), (4195.4, -0.726), (4196.6, -0.738), (4197.9, -0.724), (4198.8, -0.738), (4199.7, -0.755),
    (4200.7, -0.709), (4201.6, -0.672), (4202.7, -0.697), (4203.8, -0.711), (4204.7, -0.676), (4205.7, -0.643),
    (4206.9, -0.641), (4208.1, -0.630), (4208.8, -0.608), (4209.7, -0.595), (4210.8, -0.618), (4211.8, -0.651),
    (4212.7, -0.693), (4213.6, -0.747), (4214.6, -0.763), (4215.5, -0.743), (4216.6, -0.722), (4217.8, -0.701),
    (4218.5, -0.643), (4219.6, -0.600), (4221.7, -0.600), (4222.8, -0.618), (4223.9, -0.655), (4224.7, -0.718),
    (4225.6, -0.842), (4226.7, -0.871), (4227.6, -0.846), (4228.7, -0.826), (4229.7, -0.780), (4230.6, -0.693),
    (4231.7, -0.597), (4233.5, -0.597), (4234.5, -0.647), (4235.6, -0.734), (4236.7, -0.826), (4237.8, -0.917),
    (4238.7, -0.946), (4239.7, -0.900), (4240.8, -0.834), (4241.7, -0.772), (4242.6, -0.718), (4243.6, -0.703),
    (4244.5, -0.776), (4245.6, -0.884), (4246.5, -0.940), (4247.6, -0.942), (4248.8, -1.004), (4249.8, -1.048),
    (4250.6, -0.942), (4251.8, -0.849), (4252.7, -0.846), (4254.0, -0.813), (4254.8, -0.709), (4255.7, -0.655),
    (4256.8, -0.664), (4257.9, -0.664), (4259.0, -0.680), (4260.1, -0.699), (4261.2, -0.680), (4261.8, -0.666),
    (4262.7, -0.676), (4263.8, -0.686), (4264.8, -0.664), (4265.7, -0.660), (4266.8, -0.713), (4267.7, -0.762),
    (4269.0, -0.759), (4269.8, -0.738), (4270.9, -0.730), (4271.8, -0.709), (4272.9, -0.719), (4273.7, -0.801),
    (4274.6, -0.826), (4275.7, -0.813), (4276.6, -0.855), (4277.7, -0.851), (4278.7, -0.759), (4279.9, -0.719),
    (4281.1, -0.738), (4282.4, -0.755), (4283.5, -0.757), (4284.7, -0.734), (4285.8, -0.697), (4286.9, -0.689),
    (4288.1, -0.686), (4289.7, -0.668), (4290.8, -0.693), (4291.9, -0.713), (4293.0, -0.776), (4293.8, -0.850),
    (4294.9, -0.882), (4296.0, -0.882), (4296.9, -0.925), (4297.8, -0.950), (4298.8, -0.909), (4299.7, -0.899),
    (4300.8, -0.942), (4301.7, -0.968), (4302.8, -0.938), (4303.9, -0.884), (4305.0, -0.842), (4305.9, -0.826),
    (4306.6, -0.767), (4307.5, -0.713), (4308.6, -0.705), (4309.7, -0.691), (4310.9, -0.705), (4311.6, -0.763),
    (4312.8, -0.821), (4313.9, -0.842), (4314.8, -0.942), (4315.7, -1.008), (4316.7, -0.950), (4317.8, -0.880),
    (4318.7, -0.925), (4319.8, -0.992), (4320.7, -0.925), (4321.8, -0.838), (4322.8, -0.855), (4323.9, -0.834),
    (4324.8, -0.776), (4325.9, -0.791), (4326.8, -0.792), (4327.8, -0.767), (4328.7, -0.838), (4329.8, -0.907),
    (4330.7, -0.851), (4331.8, -0.797), (4332.8, -0.838), (4333.9, -0.851), (4334.8, -0.801), (4335.7, -0.747),
    (4337.6, -0.792), (4338.7, -0.838), (4339.9, -0.892), (4340.8, -0.917), (4341.8, -0.929), (4342.6, -0.917),
    (4343.8, -0.867), (4344.9, -0.809), (4345.8, -0.771), (4346.9, -0.730), (4347.9, -0.708), (4349.0, -0.751),
    (4350.1, -0.826), (4351.0, -0.892), (4351.9, -0.942), (4352.9, -0.965), (4353.8, -0.938), (4354.9, -0.884),
    (4355.7, -0.826), (4356.8, -0.786), (4357.7, -0.814), (4358.8, -0.842), (4359.7, -0.851), (4360.8, -0.880),
    (4361.8, -0.869), (4362.7, -0.792), (4363.8, -0.713), (4364.9, -0.668), (4366.1, -0.635), (4367.7, -0.608),
    (4368.9, -0.625), (4370.2, -0.668), (4371.3, -0.726), (4372.4, -0.801), (4373.5, -0.884), (4374.7, -0.958),
    (4375.8, -1.002), (4376.9, -0.992), (4378.0, -0.917), (4379.1, -0.851), (4380.0, -0.813), (4380.9, -0.792),
    (4382.0, -0.822), (4382.8, -0.884), (4383.7, -0.979), (4384.8, -0.998), (4385.8, -0.967), (4386.9, -0.884),
    (4388.0, -0.776), (4388.9, -0.693), (4390.0, -0.647), (4391.7, -0.606), (4392.8, -0.616), (4393.9, -0.626),
    (4395.6, -0.636), (4396.7, -0.645), (4397.8, -0.647), (4399.2, -0.639), (4400.6, -0.630), (4402.0, -0.628),
    (4402.9, -0.709), (4403.6, -0.809), (4404.8, -0.822), (4405.7, -0.817), (4406.8, -0.846), (4407.9, -0.830),
    (4408.8, -0.718), (4409.9, -0.639), (4411.2, -0.628), (4412.6, -0.618), (4414.0, -0.618), (4414.8, -0.693),
    (4415.7, -0.776), (4416.8, -0.792), (4417.9, -0.774), (4418.8, -0.791), (4419.9, -0.774), (4420.7, -0.697),
    (4421.8, -0.625), (4422.9, -0.633), (4424.0, -0.643), (4425.5, -0.641), (4426.8, -0.635), (4427.9, -0.633),
    (4429.1, -0.616), (4430.2, -0.610), (4431.5, -0.616), (4433.0, -0.626), (4434.3, -0.639), (4435.2, -0.684),
    (4436.0, -0.724), (4437.1, -0.730), (4438.2, -0.716), (4439.3, -0.713), (4440.2, -0.693), (4440.8, -0.651),
    (4441.9, -0.622), (4443.6, -0.622), (4445.8, -0.626), (4446.9, -0.622), (4448.0, -0.618), (4448.9, -0.639),
    (4449.7, -0.660), (4450.8, -0.666), (4451.9, -0.664), (4453.0, -0.747), (4453.8, -0.838), (4454.9, -0.830),
    (4455.8, -0.792), (4456.9, -0.817), (4458.1, -0.809), (4459.0, -0.713), (4459.9, -0.668), (4461.0, -0.676),
    (4462.1, -0.676), (4463.0, -0.743), (4463.9, -0.817), (4465.0, -0.838), (4465.8, -0.842), (4467.0, -0.863),
    (4467.9, -0.842), (4468.9, -0.759), (4469.8, -0.689), (4470.9, -0.678), (4472.0, -0.701), (4473.1, -0.734),
    (4474.2, -0.763), (4475.3, -0.767), (4476.5, -0.726), (4477.6, -0.685), (4478.7, -0.647), (4480.0, -0.626),
    (4480.9, -0.685), (4481.7, -0.771), (4482.8, -0.791), (4483.7, -0.776), (4484.8, -0.791), (4485.9, -0.767),
    (4486.8, -0.684), (4487.9, -0.625), (4488.7, -0.660), (4489.8, -0.759), (4490.9, -0.776), (4492.1, -0.769),
    (4492.9, -0.792), (4494.0, -0.780), (4494.9, -0.693), (4496.0, -0.643), (4497.1, -0.660), (4498.0, -0.680),
    (4499.1, -0.678), (4499.7, -0.668),
]

atm_5000 = [
    (4000.0, -1.023), (4001.9, -1.025), (4003.0, -1.058), (4003.8, -1.125), (4004.9, -1.187), (4006.1, -1.241),
    (4006.8, -1.295), (4007.7, -1.328), (4008.8, -1.303), (4009.9, -1.274), (4010.8, -1.241), (4011.6, -1.174),
    (4012.7, -1.108), (4014.1, -1.075), (4014.6, -1.050), (4015.7, -1.048), (4016.6, -1.054), (4017.7, -1.046),
    (4018.6, -1.091), (4019.6, -1.166), (4020.5, -1.162), (4021.6, -1.141), (4022.5, -1.162), (4023.5, -1.145),
    (4024.4, -1.083), (4025.5, -1.058), (4026.7, -1.046), (4027.8, -1.029), (4028.7, -1.091), (4029.4, -1.162),
    (4030.6, -1.183), (4031.7, -1.199), (4032.8, -1.257), (4033.7, -1.274), (4034.7, -1.199), (4035.8, -1.137),
    (4036.9, -1.091), (4037.8, -1.056), (4038.7, -1.046), (4039.8, -1.081), (4040.9, -1.141), (4041.7, -1.179),
    (4042.8, -1.214), (4043.9, -1.214), (4045.0, -1.191), (4046.2, -1.170), (4047.3, -1.145), (4048.4, -1.129),
    (4049.2, -1.100), (4050.1, -1.083), (4051.7, -1.075), (4052.9, -1.096), (4053.6, -1.154), (4054.5, -1.191),
    (4055.6, -1.193), (4056.5, -1.220), (4057.6, -1.228), (4058.8, -1.166), (4059.8, -1.116), (4060.9, -1.145),
    (4061.8, -1.170), (4062.9, -1.141), (4063.7, -1.120), (4064.8, -1.158), (4065.9, -1.198), (4066.8, -1.145),
    (4067.7, -1.096), (4068.8, -1.116), (4069.8, -1.140), (4070.7, -1.120), (4071.8, -1.133), (4072.6, -1.203),
    (4073.5, -1.262), (4074.6, -1.291), (4075.5, -1.320), (4076.6, -1.322), (4077.7, -1.307), (4078.8, -1.307),
    (4079.8, -1.311), (4080.7, -1.257), (4081.5, -1.195), (4082.6, -1.174), (4083.7, -1.150), (4084.9, -1.112),
    (4086.0, -1.118), (4086.9, -1.162), (4087.8, -1.191), (4088.8, -1.206), (4089.7, -1.183), (4091.1, -1.183),
    (4091.9, -1.208), (4093.0, -1.179), (4093.9, -1.151), (4094.7, -1.179), (4095.8, -1.191), (4096.7, -1.141),
    (4097.7, -1.100), (4099.0, -1.108), (4100.0, -1.118), (4100.8, -1.143), (4101.7, -1.145), (4102.7, -1.166),
    (4103.8, -1.179), (4104.7, -1.176), (4105.5, -1.120), (4106.6, -1.110), (4107.7, -1.108), (4108.6, -1.081),
    (4109.7, -1.056), (4110.8, -1.055), (4111.6, -1.046), (4112.5, -1.008), (4113.6, -0.975), (4114.7, -0.992),
    (4115.8, -1.025), (4116.7, -1.075), (4117.7, -1.145), (4118.6, -1.191), (4119.8, -1.201), (4120.9, -1.208),
    (4122.0, -1.191), (4122.8, -1.125), (4123.7, -1.081), (4124.8, -1.108), (4125.7, -1.158), (4126.7, -1.166),
    (4127.8, -1.156), (4128.9, -1.162), (4129.8, -1.133), (4130.9, -1.110), (4132.0, -1.137), (4133.1, -1.135),
    (4133.9, -1.120), (4134.8, -1.145), (4135.9, -1.129), (4136.8, -1.104), (4137.9, -1.133), (4139.0, -1.179),
    (4140.0, -1.233), (4140.9, -1.291), (4141.7, -1.316), (4142.8, -1.303), (4144.0, -1.284), (4145.1, -1.274),
    (4146.0, -1.257), (4146.8, -1.206), (4147.7, -1.158), (4148.8, -1.145), (4149.6, -1.156), (4150.5, -1.125),
    (4151.6, -1.087), (4152.4, -1.133), (4153.5, -1.199), (4154.5, -1.212), (4155.6, -1.248), (4156.7, -1.341),
    (4157.9, -1.380), (4159.0, -1.349), (4160.1, -1.274), (4161.2, -1.191), (4162.3, -1.108), (4163.5, -1.062),
    (4164.6, -1.071), (4165.9, -1.100), (4166.8, -1.133), (4167.9, -1.118), (4168.7, -1.145), (4169.6, -1.166),
    (4170.6, -1.143), (4171.7, -1.154), (4172.6, -1.216), (4173.5, -1.251), (4174.6, -1.241), (4175.7, -1.206),
    (4176.7, -1.208), (4177.6, -1.231), (4178.7, -1.233), (4179.8, -1.253), (4180.7, -1.284), (4181.7, -1.280),
    (4182.6, -1.272), (4183.7, -1.274), (4184.9, -1.212), (4185.7, -1.162), (4186.8, -1.143), (4187.6, -1.100),
    (4188.5, -1.042), (4189.5, -1.021), (4191.8, -1.022), (4192.7, -1.075), (4193.6, -1.133), (4194.7, -1.170),
    (4195.7, -1.209), (4196.8, -1.224), (4197.9, -1.199), (4198.8, -1.198), (4199.7, -1.216), (4200.7, -1.166),
    (4201.6, -1.123), (4202.7, -1.174), (4203.8, -1.214), (4204.7, -1.158), (4205.7, -1.101), (4206.6, -1.120),
    (4207.7, -1.145), (4208.6, -1.100), (4209.6, -1.052), (4210.7, -1.091), (4211.6, -1.141), (4212.7, -1.158),
    (4213.6, -1.191), (4214.6, -1.203), (4215.5, -1.166), (4216.6, -1.133), (4217.8, -1.108), (4218.5, -1.033),
    (4219.6, -0.971), (4220.5, -0.979), (4221.7, -0.975), (4222.8, -0.988), (4223.7, -1.042), (4224.4, -1.108),
    (4225.6, -1.208), (4226.7, -1.248), (4227.6, -1.220), (4228.7, -1.158), (4229.7, -1.091), (4230.6, -1.008),
    (4231.7, -0.960), (4233.7, -0.950), (4234.7, -1.008), (4235.6, -1.079), (4236.7, -1.141), (4237.8, -1.208),
    (4238.7, -1.249), (4239.7, -1.233), (4240.8, -1.183), (4241.7, -1.141), (4242.6, -1.083), (4243.6, -1.066),
    (4244.5, -1.118), (4245.6, -1.191), (4246.5, -1.227), (4247.6, -1.233), (4248.8, -1.274), (4249.8, -1.316),
    (4250.6, -1.257), (4251.8, -1.189), (4252.7, -1.199), (4254.0, -1.212), (4254.8, -1.158), (4255.7, -1.133),
    (4256.8, -1.145), (4257.9, -1.140), (4259.0, -1.126), (4260.1, -1.125), (4261.0, -1.091), (4261.8, -1.051),
    (4262.9, -1.075), (4263.8, -1.098), (4264.8, -1.087), (4265.7, -1.087), (4266.8, -1.158), (4267.7, -1.216),
    (4269.0, -1.203), (4269.8, -1.187), (4270.9, -1.174), (4271.8, -1.141), (4272.9, -1.129), (4273.7, -1.166),
    (4274.6, -1.166), (4275.7, -1.162), (4276.6, -1.212), (4277.7, -1.241), (4278.7, -1.212), (4279.9, -1.209),
    (4281.1, -1.257), (4282.4, -1.278), (4283.5, -1.282), (4284.7, -1.241), (4285.8, -1.191), (4286.9, -1.179),
    (4288.1, -1.183), (4288.8, -1.166), (4289.7, -1.148), (4290.8, -1.183), (4291.9, -1.212), (4293.0, -1.220),
    (4293.8, -1.245), (4294.9, -1.253), (4296.0, -1.248), (4296.9, -1.270), (4297.8, -1.287), (4298.8, -1.278),
    (4299.7, -1.278), (4300.8, -1.316), (4301.7, -1.334), (4302.8, -1.316), (4303.9, -1.295), (4305.0, -1.289),
    (4305.9, -1.287), (4306.6, -1.249), (4307.5, -1.191), (4308.6, -1.179), (4309.7, -1.166), (4310.9, -1.154),
    (4311.6, -1.170), (4312.8, -1.241), (4313.9, -1.282), (4314.8, -1.311), (4315.7, -1.332), (4316.7, -1.316),
    (4317.6, -1.278), (4318.7, -1.272), (4319.8, -1.282), (4320.7, -1.257), (4321.8, -1.233), (4322.8, -1.245),
    (4323.9, -1.224), (4324.8, -1.216), (4325.9, -1.228), (4326.8, -1.208), (4327.8, -1.154), (4328.7, -1.191),
    (4329.8, -1.233), (4330.7, -1.209), (4331.8, -1.209), (4332.8, -1.274), (4333.9, -1.311), (4334.8, -1.278),
    (4336.3, -1.220), (4337.6, -1.212), (4339.0, -1.208), (4339.9, -1.181), (4341.0, -1.199), (4341.9, -1.220),
    (4343.0, -1.191), (4343.8, -1.120), (4344.9, -1.108), (4345.8, -1.100), (4346.8, -1.065), (4347.9, -1.065),
    (4349.0, -1.125), (4350.1, -1.191), (4351.0, -1.249), (4351.9, -1.282), (4352.9, -1.297), (4354.0, -1.295),
    (4355.1, -1.274), (4356.0, -1.228), (4356.9, -1.212), (4358.0, -1.220), (4359.2, -1.224), (4360.2, -1.241),
    (4361.1, -1.274), (4361.9, -1.282), (4362.7, -1.241), (4363.8, -1.166), (4364.9, -1.091), (4366.1, -1.025),
    (4367.2, -0.979), (4368.1, -0.968), (4369.1, -0.979), (4370.0, -1.008), (4371.1, -1.075), (4372.2, -1.166),
    (4373.3, -1.241), (4374.4, -1.282), (4375.9, -1.311), (4376.9, -1.274), (4377.8, -1.191), (4378.9, -1.187),
    (4380.0, -1.195), (4380.9, -1.174), (4382.0, -1.191), (4383.0, -1.257), (4383.9, -1.332), (4384.8, -1.320),
    (4385.8, -1.274), (4386.9, -1.183), (4388.0, -1.075), (4389.1, -1.008), (4390.3, -0.967), (4391.2, -0.942),
    (4392.0, -0.928), (4393.2, -0.950), (4393.9, -0.983), (4395.1, -1.017), (4396.2, -1.058), (4397.3, -1.096),
    (4398.2, -1.106), (4399.2, -1.083), (4400.1, -1.050), (4401.2, -1.029), (4402.1, -1.025), (4402.9, -1.050),
    (4403.6, -1.108), (4404.8, -1.162), (4405.9, -1.174), (4406.8, -1.179), (4407.9, -1.125), (4408.8, -1.042),
    (4409.9, -0.975), (4411.0, -0.942), (4412.0, -0.932), (4413.1, -0.950), (4414.2, -1.000), (4415.1, -1.058),
    (4415.7, -1.096), (4416.8, -1.104), (4417.9, -1.079), (4419.0, -1.062), (4419.9, -1.033), (4420.7, -0.979),
    (4421.8, -0.950), (4422.9, -0.983), (4424.0, -1.012), (4424.9, -1.021), (4425.9, -1.008), (4427.1, -0.996),
    (4428.0, -0.975), (4429.1, -0.938), (4430.2, -0.925), (4431.5, -0.932), (4432.6, -0.950), (4433.7, -0.983),
    (4434.9, -1.042), (4435.8, -1.100), (4436.9, -1.116), (4438.0, -1.091), (4439.1, -1.071), (4440.0, -1.042),
    (4440.8, -0.983), (4441.9, -0.971), (4443.0, -0.972), (4444.1, -0.967), (4445.2, -0.983), (4446.1, -0.992),
    (4447.1, -0.967), (4448.0, -0.946), (4448.9, -0.992), (4449.9, -1.046), (4451.0, -1.050), (4451.9, -1.042),
    (4452.7, -1.108), (4453.8, -1.195), (4454.7, -1.150), (4455.8, -1.098), (4456.9, -1.118), (4458.1, -1.118),
    (4459.0, -1.058), (4459.9, -1.052), (4461.0, -1.085), (4462.1, -1.091), (4463.0, -1.133), (4463.9, -1.191),
    (4465.0, -1.195), (4466.1, -1.199), (4467.0, -1.220), (4467.9, -1.195), (4468.9, -1.116), (4469.8, -1.050),
    (4470.9, -1.037), (4472.0, -1.075), (4473.1, -1.125), (4474.2, -1.174), (4475.1, -1.195), (4476.1, -1.158),
    (4477.2, -1.075), (4478.5, -0.975), (4480.0, -0.924), (4480.9, -0.967), (4481.7, -1.054), (4482.8, -1.081),
    (4483.7, -1.081), (4484.8, -1.098), (4485.9, -1.079), (4486.8, -1.017), (4487.9, -0.946), (4488.7, -0.975),
    (4489.8, -1.066), (4490.9, -1.091), (4492.1, -1.093), (4492.9, -1.125), (4494.0, -1.137), (4494.9, -1.075),
    (4496.0, -1.029), (4497.1, -1.058), (4498.0, -1.100), (4499.1, -1.083), (4499.7, -1.054),
]

atm_4000 = [
    (4000.0, -1.455), (4001.0, -1.444), (4001.9, -1.415), (4002.7, -1.397), (4003.5, -1.432), (4004.3, -1.490),
    (4005.5, -1.532), (4006.4, -1.606), (4007.7, -1.681), (4008.8, -1.656), (4009.7, -1.635), (4010.8, -1.631),
    (4011.6, -1.606), (4012.7, -1.581), (4013.8, -1.588), (4014.9, -1.581), (4016.0, -1.575), (4016.8, -1.571),
    (4017.7, -1.536), (4018.6, -1.523), (4019.7, -1.550), (4020.9, -1.523), (4021.9, -1.486), (4022.7, -1.532),
    (4023.6, -1.586), (4024.6, -1.550), (4025.8, -1.544), (4026.7, -1.581), (4027.8, -1.583), (4028.9, -1.590),
    (4029.8, -1.619), (4030.6, -1.627), (4031.7, -1.652), (4032.8, -1.706), (4033.9, -1.731), (4035.0, -1.673),
    (4035.8, -1.606), (4036.9, -1.548), (4037.8, -1.507), (4038.7, -1.488), (4039.8, -1.494), (4040.9, -1.540),
    (4042.0, -1.581), (4042.8, -1.615), (4043.9, -1.640), (4045.6, -1.644), (4046.7, -1.640), (4047.8, -1.623),
    (4048.6, -1.565), (4049.7, -1.507), (4050.6, -1.485), (4051.7, -1.486), (4052.9, -1.502), (4053.6, -1.544),
    (4054.5, -1.594), (4055.6, -1.602), (4056.8, -1.623), (4057.6, -1.640), (4058.8, -1.615), (4059.9, -1.613),
    (4061.0, -1.648), (4061.8, -1.666), (4062.9, -1.648), (4063.8, -1.635), (4064.8, -1.635), (4065.9, -1.640),
    (4066.8, -1.590), (4067.7, -1.523), (4068.8, -1.523), (4069.8, -1.541), (4070.7, -1.523), (4071.8, -1.534),
    (4072.6, -1.606), (4073.7, -1.664), (4074.6, -1.677), (4075.7, -1.688), (4076.6, -1.688), (4077.7, -1.671),
    (4078.8, -1.667), (4080.0, -1.669), (4080.7, -1.640), (4081.8, -1.606), (4082.6, -1.610), (4083.7, -1.616),
    (4084.6, -1.594), (4085.7, -1.588), (4086.9, -1.590), (4087.8, -1.575), (4088.8, -1.548), (4089.7, -1.522),
    (4091.0, -1.519), (4091.9, -1.544), (4093.0, -1.561), (4094.2, -1.563), (4095.0, -1.598), (4095.8, -1.625),
    (4096.7, -1.581), (4097.7, -1.541), (4098.8, -1.565), (4099.7, -1.598), (4100.8, -1.606), (4101.9, -1.631),
    (4102.8, -1.673), (4103.8, -1.694), (4104.9, -1.673), (4106.0, -1.644), (4107.1, -1.615), (4108.0, -1.598),
    (4108.9, -1.548), (4109.7, -1.497), (4110.8, -1.490), (4111.6, -1.511), (4112.7, -1.498), (4113.6, -1.490),
    (4114.7, -1.523), (4115.8, -1.540), (4116.7, -1.544), (4117.9, -1.581), (4118.9, -1.623), (4119.8, -1.656),
    (4120.9, -1.671), (4122.0, -1.652), (4122.8, -1.581), (4123.7, -1.478), (4124.8, -1.449), (4125.9, -1.478),
    (4127.0, -1.494), (4127.9, -1.527), (4129.0, -1.581), (4129.8, -1.569), (4130.7, -1.540), (4131.8, -1.557),
    (4132.6, -1.519), (4133.7, -1.500), (4134.8, -1.544), (4135.9, -1.546), (4136.7, -1.533), (4138.0, -1.557),
    (4139.3, -1.571), (4140.2, -1.586), (4140.7, -1.631), (4141.5, -1.685), (4142.8, -1.685), (4144.0, -1.685),
    (4144.9, -1.688), (4146.0, -1.664), (4146.8, -1.656), (4147.9, -1.656), (4149.0, -1.652), (4150.1, -1.652),
    (4151.0, -1.631), (4151.8, -1.552), (4152.7, -1.538), (4153.6, -1.561), (4154.4, -1.550), (4155.5, -1.571),
    (4156.3, -1.623), (4157.2, -1.689), (4157.9, -1.731), (4159.0, -1.702), (4160.1, -1.648), (4161.0, -1.565),
    (4161.8, -1.494), (4162.9, -1.463), (4163.8, -1.486), (4164.9, -1.498), (4165.9, -1.523), (4166.8, -1.602),
    (4167.9, -1.619), (4169.0, -1.605), (4170.1, -1.602), (4171.3, -1.621), (4172.4, -1.656), (4173.5, -1.673),
    (4174.6, -1.674), (4175.7, -1.656), (4176.8, -1.635), (4177.9, -1.621), (4179.1, -1.610), (4180.2, -1.613),
    (4181.3, -1.606), (4182.4, -1.623), (4183.5, -1.638), (4184.6, -1.615), (4185.7, -1.600), (4186.9, -1.621),
    (4187.9, -1.630), (4188.8, -1.586), (4189.5, -1.557), (4190.7, -1.557), (4191.5, -1.552), (4192.7, -1.519),
    (4193.8, -1.513), (4194.9, -1.544), (4195.8, -1.569), (4196.9, -1.579), (4197.9, -1.583), (4198.8, -1.606),
    (4199.7, -1.632), (4200.7, -1.624), (4201.6, -1.613), (4202.7, -1.624), (4203.8, -1.630), (4204.9, -1.613),
    (4206.0, -1.608), (4206.9, -1.606), (4208.1, -1.594), (4209.4, -1.577), (4210.5, -1.557), (4211.6, -1.557),
    (4212.7, -1.577), (4213.6, -1.594), (4214.6, -1.575), (4215.5, -1.519), (4216.6, -1.486), (4217.8, -1.461),
    (4218.5, -1.419), (4219.6, -1.374), (4220.8, -1.419), (4221.9, -1.461), (4223.0, -1.482), (4224.1, -1.548),
    (4225.2, -1.623), (4226.1, -1.669), (4227.0, -1.689), (4227.8, -1.704), (4228.7, -1.681), (4229.7, -1.635),
    (4230.6, -1.610), (4231.7, -1.598), (4232.6, -1.548), (4233.6, -1.494), (4234.7, -1.515), (4235.6, -1.538),
    (4236.7, -1.541), (4237.8, -1.577), (4238.7, -1.598), (4239.7, -1.577), (4240.8, -1.550), (4241.9, -1.523),
    (4242.8, -1.461), (4243.7, -1.436), (4244.7, -1.490), (4245.6, -1.557), (4246.5, -1.569), (4247.6, -1.555),
    (4248.8, -1.598), (4249.8, -1.644), (4250.6, -1.610), (4251.8, -1.590), (4252.7, -1.623), (4253.8, -1.681),
    (4254.8, -1.656), (4255.9, -1.627), (4257.0, -1.610), (4257.9, -1.563), (4258.8, -1.541), (4259.9, -1.544),
    (4261.0, -1.540), (4261.8, -1.541), (4262.7, -1.579), (4263.8, -1.596), (4264.8, -1.590), (4265.9, -1.590),
    (4266.8, -1.606), (4268.0, -1.627), (4269.1, -1.638), (4270.2, -1.638), (4271.3, -1.640), (4272.4, -1.635),
    (4273.5, -1.656), (4274.6, -1.664), (4275.7, -1.669), (4276.9, -1.689), (4277.7, -1.697), (4278.7, -1.664),
    (4279.9, -1.623), (4280.7, -1.615), (4281.9, -1.606), (4282.8, -1.583), (4283.9, -1.573), (4285.0, -1.561),
    (4286.0, -1.532), (4287.1, -1.561), (4288.2, -1.563), (4289.1, -1.577), (4290.2, -1.619), (4291.3, -1.635),
    (4292.5, -1.638), (4293.6, -1.652), (4294.7, -1.631), (4295.6, -1.581), (4296.7, -1.598), (4297.8, -1.627),
    (4298.8, -1.606), (4299.7, -1.605), (4300.8, -1.656), (4301.7, -1.677), (4302.8, -1.664), (4303.9, -1.654),
    (4305.0, -1.644), (4305.9, -1.632), (4307.0, -1.624), (4308.1, -1.613), (4309.0, -1.573), (4310.1, -1.544),
    (4311.2, -1.544), (4312.3, -1.552), (4313.3, -1.581), (4314.2, -1.627), (4315.3, -1.658), (4316.4, -1.671),
    (4317.5, -1.664), (4318.7, -1.658), (4319.8, -1.658), (4320.9, -1.656), (4322.0, -1.652), (4323.1, -1.652),
    (4324.2, -1.638), (4325.1, -1.631), (4326.1, -1.631), (4327.0, -1.602), (4327.8, -1.541), (4328.9, -1.557),
    (4329.8, -1.586), (4330.9, -1.577), (4331.8, -1.602), (4332.6, -1.664), (4333.7, -1.723), (4334.8, -1.681),
    (4335.4, -1.648), (4336.5, -1.635), (4337.9, -1.631), (4338.7, -1.540), (4339.6, -1.449), (4340.8, -1.453),
    (4341.8, -1.480), (4342.6, -1.440), (4343.8, -1.436), (4344.5, -1.502), (4345.7, -1.573), (4346.8, -1.561),
    (4347.9, -1.544), (4349.0, -1.569), (4350.1, -1.598), (4351.2, -1.619), (4352.1, -1.648), (4353.0, -1.654),
    (4354.0, -1.627), (4355.1, -1.606), (4356.0, -1.594), (4356.8, -1.569), (4357.9, -1.579), (4358.8, -1.615),
    (4359.7, -1.644), (4360.8, -1.640), (4361.9, -1.606), (4362.7, -1.532), (4363.8, -1.424), (4364.9, -1.324),
    (4366.1, -1.241), (4367.2, -1.174), (4367.7, -1.143), (4368.6, -1.191), (4369.4, -1.274), (4370.5, -1.340),
    (4371.6, -1.407), (4372.5, -1.515), (4373.6, -1.565), (4374.7, -1.573), (4375.8, -1.602), (4376.9, -1.586),
    (4377.8, -1.527), (4378.9, -1.527), (4380.0, -1.527), (4380.9, -1.502), (4381.8, -1.523), (4382.8, -1.598),
    (4383.7, -1.664), (4384.5, -1.660), (4385.8, -1.606), (4386.9, -1.523), (4388.0, -1.374), (4389.1, -1.257),
    (4390.3, -1.208), (4391.2, -1.170), (4392.0, -1.164), (4392.9, -1.195), (4393.9, -1.241), (4394.8, -1.253),
    (4395.9, -1.274), (4396.7, -1.332), (4397.8, -1.357), (4398.7, -1.315), (4399.8, -1.260), (4400.9, -1.260),
    (4402.1, -1.274), (4402.9, -1.324), (4403.8, -1.407), (4405.1, -1.494), (4405.9, -1.523), (4406.8, -1.536),
    (4407.9, -1.482), (4408.8, -1.407), (4409.9, -1.324), (4411.0, -1.257), (4412.0, -1.208), (4413.1, -1.274),
    (4414.0, -1.349), (4415.1, -1.365), (4416.0, -1.378), (4417.0, -1.399), (4417.9, -1.357), (4418.8, -1.274),
    (4419.9, -1.168), (4420.9, -1.178), (4421.8, -1.257), (4422.9, -1.332), (4424.0, -1.407), (4424.9, -1.490),
    (4425.9, -1.515), (4426.8, -1.440), (4427.9, -1.311), (4429.1, -1.282), (4430.2, -1.272), (4431.1, -1.247),
    (4431.9, -1.243), (4432.7, -1.315), (4433.7, -1.390), (4434.9, -1.432), (4436.0, -1.469), (4436.9, -1.465),
    (4438.0, -1.399), (4439.1, -1.324), (4440.0, -1.249), (4440.8, -1.201), (4441.9, -1.233), (4442.8, -1.249),
    (4443.8, -1.220), (4444.7, -1.249), (4445.8, -1.270), (4446.6, -1.191), (4447.8, -1.112), (4448.9, -1.191),
    (4449.9, -1.299), (4451.0, -1.307), (4451.9, -1.309), (4452.7, -1.399), (4453.9, -1.536), (4454.9, -1.473),
    (4455.8, -1.388), (4456.9, -1.423), (4458.1, -1.432), (4459.0, -1.382), (4459.9, -1.407), (4461.0, -1.490),
    (4462.1, -1.548), (4463.0, -1.598), (4463.9, -1.640), (4465.0, -1.623), (4466.1, -1.605), (4467.0, -1.627),
    (4467.9, -1.640), (4468.9, -1.523), (4469.8, -1.414), (4470.9, -1.409), (4471.7, -1.445), (4472.8, -1.427),
    (4473.9, -1.453), (4474.8, -1.544), (4476.0, -1.552), (4477.0, -1.424), (4478.1, -1.257), (4479.2, -1.150),
    (4480.0, -1.141), (4480.9, -1.158), (4481.7, -1.233), (4482.8, -1.332), (4483.7, -1.365), (4484.8, -1.397),
    (4485.9, -1.349), (4486.8, -1.216), (4487.9, -1.154), (4489.0, -1.174), (4490.1, -1.257), (4491.0, -1.330),
    (4492.1, -1.357), (4493.0, -1.436), (4494.0, -1.486), (4494.9, -1.457), (4496.0, -1.469), (4497.1, -1.536),
    (4498.2, -1.602), (4499.0, -1.557), (4499.7, -1.424),
]

# highlighted wavelength windows (Angstrom)
feature_windows = [(4000, 4036), (4140, 4148), (4195, 4232), (4350, 4365), (4472, 4488)]

wl_ticks = [4000, 4050, 4100, 4150, 4200, 4250, 4300, 4350, 4400, 4450, 4500]

series_labels = [
    "Optical Spectrum",
    r"Disk Model - offset, $i = 30^\circ$",
    "8000 K Atmosphere - off.",
    "7000 K Atmosphere - off.",
    "6000 K Atmosphere - off.",
    "5000 K Atmosphere - off.",
    "4000 K Atmosphere - off.",
]

series = [optical, disk, atm_8000, atm_7000, atm_6000, atm_5000, atm_4000]
colors = ["red", "tab:blue", "tab:orange", "tab:green", "tab:red", "tab:purple", "tab:brown"]
alphas = [1.0, 0.9, 1, 1, 1, 1, 1]
widths = [2.0, 2.0, 1.4, 1.4, 1.4, 1.4, 1.4]

fig = plt.figure(figsize=(10.875, 13.245), dpi=200)
ax = fig.add_axes([0.1071, 0.0574, 0.8547, 0.9116])

for lo, hi in feature_windows:
    ax.axvspan(lo, hi, color="green", alpha=0.1)

for data, lab, c, a, w in zip(series, series_labels, colors, alphas, widths):
    arr = np.array(data)
    ax.plot(arr[:, 0], arr[:, 1] * 1e-14, color=c, alpha=a, lw=w, label=lab)

ax.set_xlim(4000, 4500)
ax.set_xticks(wl_ticks)
ax.set_ylim(-2.2e-14, 0.8e-14)
ax.tick_params(labelsize=18)
ax.yaxis.get_offset_text().set_fontsize(18)
ax.set_xlabel(r"$\lambda$ (Angstroms)", fontsize=18)
ax.set_ylabel(r"$F_{\lambda}$ ($erg\ cm^{-2} s^{-1} \AA^{-1}$)", fontsize=18)
ax.set_title("HBC 722: Multi-Temperature Spectral Features", fontsize=20)
ax.legend(loc="lower right", fontsize=14)

fig.savefig("out.png", dpi=200)
